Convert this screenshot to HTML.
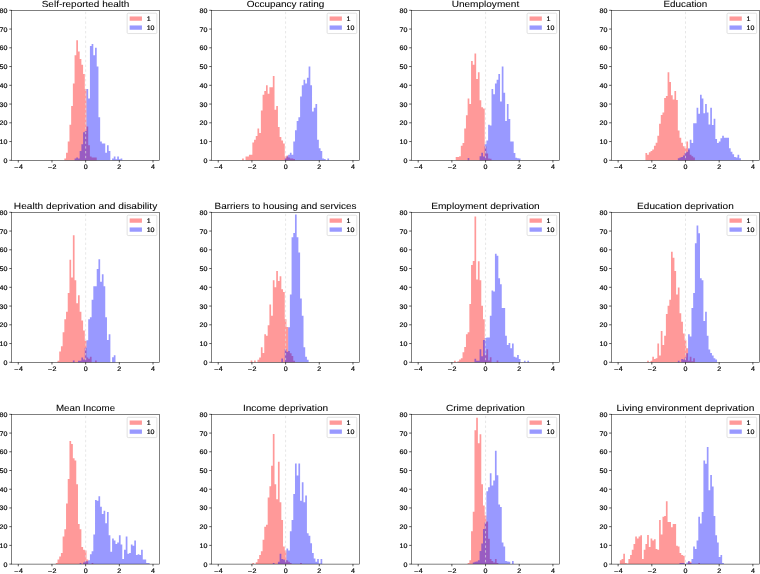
<!DOCTYPE html>
<html><head><meta charset="utf-8"><title>Histograms</title>
<style>html,body{margin:0;padding:0;background:#fff;width:760px;height:574px;overflow:hidden}</style></head>
<body>
<svg width="760" height="574" viewBox="0 0 760 574" style="position:absolute;left:0;top:0;will-change:transform;text-rendering:geometricPrecision;font-family:'Liberation Sans',sans-serif">
<rect width="760" height="574" fill="#fff"/>
<g>
<path d="M64.33 160.30V158.43H66.04V160.30ZM66.04 160.30V152.80H67.74V160.30ZM67.74 160.30V141.55H69.45V160.30ZM69.45 160.30V124.68H71.15V160.30ZM71.15 160.30V105.93H72.86V160.30ZM72.86 160.30V83.43H74.57V160.30ZM74.57 160.30V55.30H76.27V160.30ZM76.27 160.30V40.30H77.98V160.30ZM77.98 160.30V51.55H79.68V160.30ZM79.68 160.30V59.05H81.39V160.30ZM81.39 160.30V64.68H83.09V160.30ZM83.09 160.30V74.05H84.80V160.30ZM84.80 160.30V89.05H86.50V160.30ZM86.50 160.30V126.55H88.21V160.30ZM88.21 160.30V145.30H89.91V160.30ZM89.91 160.30V156.55H91.62V160.30ZM91.62 160.30V157.49H93.32V160.30ZM93.32 160.30V157.49H95.03V160.30ZM95.03 160.30V157.49H96.73V160.30Z" fill="#ff0000" fill-opacity="0.4"/>
<path d="M74.57 160.30V158.43H76.27V160.30ZM76.27 160.30V157.49H77.98V160.30ZM77.98 160.30V158.43H79.68V160.30ZM79.68 160.30V150.93H81.39V160.30ZM81.39 160.30V144.36H83.09V160.30ZM83.09 160.30V132.18H84.80V160.30ZM84.80 160.30V131.05H86.50V160.30ZM86.50 160.30V89.05H88.21V160.30ZM88.21 160.30V98.43H89.91V160.30ZM89.91 160.30V45.93H91.62V160.30ZM91.62 160.30V44.05H93.32V160.30ZM93.32 160.30V55.30H95.03V160.30ZM95.03 160.30V47.80H96.73V160.30ZM96.73 160.30V66.55H98.44V160.30ZM98.44 160.30V117.18H100.15V160.30ZM100.15 160.30V141.55H101.85V160.30ZM101.85 160.30V143.43H103.56V160.30ZM103.56 160.30V143.43H105.26V160.30ZM105.26 160.30V152.80H106.97V160.30ZM106.97 160.30V145.30H108.67V160.30ZM108.67 160.30V150.93H110.38V160.30ZM112.08 160.30V158.43H113.79V160.30ZM113.79 160.30V156.55H115.49V160.30ZM115.49 160.30V159.36H117.20V160.30ZM117.20 160.30V156.55H118.90V160.30ZM118.90 160.30V159.36H120.61V160.30ZM120.61 160.30V158.43H122.31V160.30Z" fill="#0000ff" fill-opacity="0.4"/>
<line x1="85.65" x2="85.65" y1="10.30" y2="160.30" stroke="#dcdcdc" stroke-width="0.7" stroke-dasharray="2.4 2.4" stroke-dashoffset="3.3"/>
<rect x="11.50" y="10.30" width="148.10" height="150.00" fill="none" stroke="#000" stroke-width="0.5"/>
<rect x="14.38" y="167.34" width="3.88" height="0.56" fill="#000"/>
<text transform="translate(18.92 169.45) scale(1.0701 1)" font-size="6.63" text-anchor="start" fill="#000" stroke="#000" stroke-width="0.18">4</text>
<rect x="48.06" y="167.34" width="3.88" height="0.56" fill="#000"/>
<text transform="translate(52.60 169.45) scale(1.0701 1)" font-size="6.63" text-anchor="start" fill="#000" stroke="#000" stroke-width="0.18">2</text>
<text transform="translate(85.65 169.45) scale(1.0701 1)" font-size="6.63" text-anchor="middle" fill="#000" stroke="#000" stroke-width="0.18">0</text>
<text transform="translate(119.33 169.45) scale(1.0701 1)" font-size="6.63" text-anchor="middle" fill="#000" stroke="#000" stroke-width="0.18">2</text>
<text transform="translate(153.01 169.45) scale(1.0701 1)" font-size="6.63" text-anchor="middle" fill="#000" stroke="#000" stroke-width="0.18">4</text>
<text transform="translate(7.50 162.75) scale(1.0701 1)" font-size="6.63" text-anchor="end" fill="#000" stroke="#000" stroke-width="0.18">0</text>
<text transform="translate(7.50 144.00) scale(1.0701 1)" font-size="6.63" text-anchor="end" fill="#000" stroke="#000" stroke-width="0.18">10</text>
<text transform="translate(7.50 125.25) scale(1.0701 1)" font-size="6.63" text-anchor="end" fill="#000" stroke="#000" stroke-width="0.18">20</text>
<text transform="translate(7.50 106.50) scale(1.0701 1)" font-size="6.63" text-anchor="end" fill="#000" stroke="#000" stroke-width="0.18">30</text>
<text transform="translate(7.50 87.75) scale(1.0701 1)" font-size="6.63" text-anchor="end" fill="#000" stroke="#000" stroke-width="0.18">40</text>
<text transform="translate(7.50 69.00) scale(1.0701 1)" font-size="6.63" text-anchor="end" fill="#000" stroke="#000" stroke-width="0.18">50</text>
<text transform="translate(7.50 50.25) scale(1.0701 1)" font-size="6.63" text-anchor="end" fill="#000" stroke="#000" stroke-width="0.18">60</text>
<text transform="translate(7.50 31.50) scale(1.0701 1)" font-size="6.63" text-anchor="end" fill="#000" stroke="#000" stroke-width="0.18">70</text>
<text transform="translate(7.50 12.75) scale(1.0701 1)" font-size="6.63" text-anchor="end" fill="#000" stroke="#000" stroke-width="0.18">80</text>
<path d="M18.29 160.30v2.2M51.97 160.30v2.2M85.65 160.30v2.2M119.33 160.30v2.2M153.01 160.30v2.2M11.50 160.30h-2.2M11.50 141.55h-2.2M11.50 122.80h-2.2M11.50 104.05h-2.2M11.50 85.30h-2.2M11.50 66.55h-2.2M11.50 47.80h-2.2M11.50 29.05h-2.2M11.50 10.30h-2.2" stroke="#000" stroke-width="0.65" fill="none"/>
<text transform="translate(85.55 7.00) scale(1.1153 1)" font-size="8.96" text-anchor="middle" fill="#000" stroke="#000" stroke-width="0.06">Self-reported health</text>
<rect x="127.15" y="13.20" width="29.7" height="20.35" rx="1.2" fill="#fff" fill-opacity="0.8" stroke="#ccc" stroke-width="0.6"/>
<rect x="129.65" y="16.45" width="12.3" height="4.3" fill="#ff0000" fill-opacity="0.4"/>
<rect x="129.65" y="25.45" width="12.3" height="4.3" fill="#0000ff" fill-opacity="0.4"/>
<text transform="translate(146.65 21.00) scale(1.0701 1)" font-size="6.63" text-anchor="start" fill="#000" stroke="#000" stroke-width="0.18">1</text>
<text transform="translate(146.65 30.00) scale(1.0701 1)" font-size="6.63" text-anchor="start" fill="#000" stroke="#000" stroke-width="0.18">10</text>
</g>
<g>
<path d="M242.11 160.30V158.43H243.82V160.30ZM245.53 160.30V156.55H247.23V160.30ZM247.23 160.30V156.55H248.94V160.30ZM248.94 160.30V154.68H250.64V160.30ZM250.64 160.30V154.68H252.35V160.30ZM252.35 160.30V142.49H254.05V160.30ZM254.05 160.30V139.68H255.76V160.30ZM255.76 160.30V135.93H257.46V160.30ZM257.46 160.30V128.43H259.17V160.30ZM259.17 160.30V133.11H260.87V160.30ZM260.87 160.30V110.61H262.58V160.30ZM262.58 160.30V94.68H264.28V160.30ZM264.28 160.30V90.93H265.99V160.30ZM265.99 160.30V85.30H267.69V160.30ZM267.69 160.30V93.74H269.40V160.30ZM269.40 160.30V87.18H271.10V160.30ZM271.10 160.30V87.18H272.81V160.30ZM272.81 160.30V75.93H274.52V160.30ZM274.52 160.30V109.68H276.22V160.30ZM276.22 160.30V105.93H277.93V160.30ZM277.93 160.30V127.11H279.63V160.30ZM279.63 160.30V137.05H281.34V160.30ZM281.34 160.30V140.43H283.04V160.30ZM283.04 160.30V143.43H284.75V160.30ZM284.75 160.30V156.55H286.45V160.30ZM286.45 160.30V155.61H288.16V160.30ZM288.16 160.30V157.49H289.86V160.30ZM289.86 160.30V158.43H291.57V160.30ZM291.57 160.30V158.43H293.27V160.30ZM293.27 160.30V158.99H294.98V160.30Z" fill="#ff0000" fill-opacity="0.4"/>
<path d="M284.75 160.30V158.43H286.45V160.30ZM286.45 160.30V156.55H288.16V160.30ZM288.16 160.30V154.68H289.86V160.30ZM289.86 160.30V152.80H291.57V160.30ZM291.57 160.30V154.68H293.27V160.30ZM293.27 160.30V141.55H294.98V160.30ZM294.98 160.30V130.30H296.68V160.30ZM296.68 160.30V120.93H298.39V160.30ZM298.39 160.30V117.18H300.10V160.30ZM300.10 160.30V96.55H301.80V160.30ZM301.80 160.30V85.30H303.51V160.30ZM303.51 160.30V79.68H305.21V160.30ZM305.21 160.30V83.43H306.92V160.30ZM306.92 160.30V77.80H308.62V160.30ZM308.62 160.30V66.55H310.33V160.30ZM310.33 160.30V85.30H312.03V160.30ZM312.03 160.30V111.55H313.74V160.30ZM313.74 160.30V107.80H315.44V160.30ZM315.44 160.30V104.05H317.15V160.30ZM317.15 160.30V139.68H318.85V160.30ZM318.85 160.30V148.30H320.56V160.30ZM320.56 160.30V150.93H322.26V160.30ZM322.26 160.30V158.43H323.97V160.30ZM323.97 160.30V158.99H325.67V160.30ZM327.38 160.30V158.43H329.09V160.30Z" fill="#0000ff" fill-opacity="0.4"/>
<line x1="285.60" x2="285.60" y1="10.30" y2="160.30" stroke="#dcdcdc" stroke-width="0.7" stroke-dasharray="2.4 2.4" stroke-dashoffset="3.3"/>
<rect x="211.45" y="10.30" width="148.10" height="150.00" fill="none" stroke="#000" stroke-width="0.5"/>
<rect x="214.33" y="167.34" width="3.88" height="0.56" fill="#000"/>
<text transform="translate(218.87 169.45) scale(1.0701 1)" font-size="6.63" text-anchor="start" fill="#000" stroke="#000" stroke-width="0.18">4</text>
<rect x="248.01" y="167.34" width="3.88" height="0.56" fill="#000"/>
<text transform="translate(252.55 169.45) scale(1.0701 1)" font-size="6.63" text-anchor="start" fill="#000" stroke="#000" stroke-width="0.18">2</text>
<text transform="translate(285.60 169.45) scale(1.0701 1)" font-size="6.63" text-anchor="middle" fill="#000" stroke="#000" stroke-width="0.18">0</text>
<text transform="translate(319.28 169.45) scale(1.0701 1)" font-size="6.63" text-anchor="middle" fill="#000" stroke="#000" stroke-width="0.18">2</text>
<text transform="translate(352.96 169.45) scale(1.0701 1)" font-size="6.63" text-anchor="middle" fill="#000" stroke="#000" stroke-width="0.18">4</text>
<text transform="translate(207.45 162.75) scale(1.0701 1)" font-size="6.63" text-anchor="end" fill="#000" stroke="#000" stroke-width="0.18">0</text>
<text transform="translate(207.45 144.00) scale(1.0701 1)" font-size="6.63" text-anchor="end" fill="#000" stroke="#000" stroke-width="0.18">10</text>
<text transform="translate(207.45 125.25) scale(1.0701 1)" font-size="6.63" text-anchor="end" fill="#000" stroke="#000" stroke-width="0.18">20</text>
<text transform="translate(207.45 106.50) scale(1.0701 1)" font-size="6.63" text-anchor="end" fill="#000" stroke="#000" stroke-width="0.18">30</text>
<text transform="translate(207.45 87.75) scale(1.0701 1)" font-size="6.63" text-anchor="end" fill="#000" stroke="#000" stroke-width="0.18">40</text>
<text transform="translate(207.45 69.00) scale(1.0701 1)" font-size="6.63" text-anchor="end" fill="#000" stroke="#000" stroke-width="0.18">50</text>
<text transform="translate(207.45 50.25) scale(1.0701 1)" font-size="6.63" text-anchor="end" fill="#000" stroke="#000" stroke-width="0.18">60</text>
<text transform="translate(207.45 31.50) scale(1.0701 1)" font-size="6.63" text-anchor="end" fill="#000" stroke="#000" stroke-width="0.18">70</text>
<text transform="translate(207.45 12.75) scale(1.0701 1)" font-size="6.63" text-anchor="end" fill="#000" stroke="#000" stroke-width="0.18">80</text>
<path d="M218.24 160.30v2.2M251.92 160.30v2.2M285.60 160.30v2.2M319.28 160.30v2.2M352.96 160.30v2.2M211.45 160.30h-2.2M211.45 141.55h-2.2M211.45 122.80h-2.2M211.45 104.05h-2.2M211.45 85.30h-2.2M211.45 66.55h-2.2M211.45 47.80h-2.2M211.45 29.05h-2.2M211.45 10.30h-2.2" stroke="#000" stroke-width="0.65" fill="none"/>
<text transform="translate(285.50 7.00) scale(1.1137 1)" font-size="8.96" text-anchor="middle" fill="#000" stroke="#000" stroke-width="0.06">Occupancy rating</text>
<rect x="327.10" y="13.20" width="29.7" height="20.35" rx="1.2" fill="#fff" fill-opacity="0.8" stroke="#ccc" stroke-width="0.6"/>
<rect x="329.60" y="16.45" width="12.3" height="4.3" fill="#ff0000" fill-opacity="0.4"/>
<rect x="329.60" y="25.45" width="12.3" height="4.3" fill="#0000ff" fill-opacity="0.4"/>
<text transform="translate(346.60 21.00) scale(1.0701 1)" font-size="6.63" text-anchor="start" fill="#000" stroke="#000" stroke-width="0.18">1</text>
<text transform="translate(346.60 30.00) scale(1.0701 1)" font-size="6.63" text-anchor="start" fill="#000" stroke="#000" stroke-width="0.18">10</text>
</g>
<g>
<path d="M455.71 160.30V156.93H457.41V160.30ZM457.41 160.30V156.93H459.12V160.30ZM459.12 160.30V156.36H460.82V160.30ZM460.82 160.30V145.68H462.53V160.30ZM462.53 160.30V143.05H464.23V160.30ZM464.23 160.30V128.43H465.94V160.30ZM465.94 160.30V115.30H467.64V160.30ZM467.64 160.30V98.43H469.35V160.30ZM469.35 160.30V104.05H471.05V160.30ZM471.05 160.30V60.93H472.76V160.30ZM472.76 160.30V64.68H474.47V160.30ZM474.47 160.30V53.43H476.17V160.30ZM476.17 160.30V79.11H477.88V160.30ZM477.88 160.30V72.18H479.58V160.30ZM479.58 160.30V100.30H481.29V160.30ZM481.29 160.30V107.24H482.99V160.30ZM482.99 160.30V108.55H484.70V160.30ZM484.70 160.30V146.24H486.40V160.30ZM486.40 160.30V153.55H488.11V160.30ZM488.11 160.30V158.43H489.81V160.30ZM489.81 160.30V158.80H491.52V160.30Z" fill="#ff0000" fill-opacity="0.4"/>
<path d="M467.64 160.30V158.05H469.35V160.30ZM479.58 160.30V156.36H481.29V160.30ZM481.29 160.30V152.80H482.99V160.30ZM482.99 160.30V156.55H484.70V160.30ZM484.70 160.30V144.18H486.40V160.30ZM486.40 160.30V140.61H488.11V160.30ZM488.11 160.30V124.68H489.81V160.30ZM489.81 160.30V125.61H491.52V160.30ZM491.52 160.30V89.05H493.22V160.30ZM493.22 160.30V94.30H494.93V160.30ZM494.93 160.30V83.43H496.63V160.30ZM496.63 160.30V79.68H498.34V160.30ZM498.34 160.30V74.05H500.05V160.30ZM500.05 160.30V101.61H501.75V160.30ZM501.75 160.30V66.55H503.46V160.30ZM503.46 160.30V92.80H505.16V160.30ZM505.16 160.30V120.93H506.87V160.30ZM506.87 160.30V104.05H508.57V160.30ZM508.57 160.30V119.05H510.28V160.30ZM510.28 160.30V141.55H511.98V160.30ZM511.98 160.30V141.55H513.69V160.30ZM513.69 160.30V152.99H515.39V160.30ZM515.39 160.30V157.68H517.10V160.30ZM517.10 160.30V158.24H518.80V160.30ZM518.80 160.30V158.43H520.51V160.30Z" fill="#0000ff" fill-opacity="0.4"/>
<line x1="485.55" x2="485.55" y1="10.30" y2="160.30" stroke="#dcdcdc" stroke-width="0.7" stroke-dasharray="2.4 2.4" stroke-dashoffset="3.3"/>
<rect x="411.40" y="10.30" width="148.10" height="150.00" fill="none" stroke="#000" stroke-width="0.5"/>
<rect x="414.28" y="167.34" width="3.88" height="0.56" fill="#000"/>
<text transform="translate(418.82 169.45) scale(1.0701 1)" font-size="6.63" text-anchor="start" fill="#000" stroke="#000" stroke-width="0.18">4</text>
<rect x="447.96" y="167.34" width="3.88" height="0.56" fill="#000"/>
<text transform="translate(452.50 169.45) scale(1.0701 1)" font-size="6.63" text-anchor="start" fill="#000" stroke="#000" stroke-width="0.18">2</text>
<text transform="translate(485.55 169.45) scale(1.0701 1)" font-size="6.63" text-anchor="middle" fill="#000" stroke="#000" stroke-width="0.18">0</text>
<text transform="translate(519.23 169.45) scale(1.0701 1)" font-size="6.63" text-anchor="middle" fill="#000" stroke="#000" stroke-width="0.18">2</text>
<text transform="translate(552.91 169.45) scale(1.0701 1)" font-size="6.63" text-anchor="middle" fill="#000" stroke="#000" stroke-width="0.18">4</text>
<text transform="translate(407.40 162.75) scale(1.0701 1)" font-size="6.63" text-anchor="end" fill="#000" stroke="#000" stroke-width="0.18">0</text>
<text transform="translate(407.40 144.00) scale(1.0701 1)" font-size="6.63" text-anchor="end" fill="#000" stroke="#000" stroke-width="0.18">10</text>
<text transform="translate(407.40 125.25) scale(1.0701 1)" font-size="6.63" text-anchor="end" fill="#000" stroke="#000" stroke-width="0.18">20</text>
<text transform="translate(407.40 106.50) scale(1.0701 1)" font-size="6.63" text-anchor="end" fill="#000" stroke="#000" stroke-width="0.18">30</text>
<text transform="translate(407.40 87.75) scale(1.0701 1)" font-size="6.63" text-anchor="end" fill="#000" stroke="#000" stroke-width="0.18">40</text>
<text transform="translate(407.40 69.00) scale(1.0701 1)" font-size="6.63" text-anchor="end" fill="#000" stroke="#000" stroke-width="0.18">50</text>
<text transform="translate(407.40 50.25) scale(1.0701 1)" font-size="6.63" text-anchor="end" fill="#000" stroke="#000" stroke-width="0.18">60</text>
<text transform="translate(407.40 31.50) scale(1.0701 1)" font-size="6.63" text-anchor="end" fill="#000" stroke="#000" stroke-width="0.18">70</text>
<text transform="translate(407.40 12.75) scale(1.0701 1)" font-size="6.63" text-anchor="end" fill="#000" stroke="#000" stroke-width="0.18">80</text>
<path d="M418.19 160.30v2.2M451.87 160.30v2.2M485.55 160.30v2.2M519.23 160.30v2.2M552.91 160.30v2.2M411.40 160.30h-2.2M411.40 141.55h-2.2M411.40 122.80h-2.2M411.40 104.05h-2.2M411.40 85.30h-2.2M411.40 66.55h-2.2M411.40 47.80h-2.2M411.40 29.05h-2.2M411.40 10.30h-2.2" stroke="#000" stroke-width="0.65" fill="none"/>
<text transform="translate(485.45 7.00) scale(1.1226 1)" font-size="8.96" text-anchor="middle" fill="#000" stroke="#000" stroke-width="0.06">Unemployment</text>
<rect x="527.05" y="13.20" width="29.7" height="20.35" rx="1.2" fill="#fff" fill-opacity="0.8" stroke="#ccc" stroke-width="0.6"/>
<rect x="529.55" y="16.45" width="12.3" height="4.3" fill="#ff0000" fill-opacity="0.4"/>
<rect x="529.55" y="25.45" width="12.3" height="4.3" fill="#0000ff" fill-opacity="0.4"/>
<text transform="translate(546.55 21.00) scale(1.0701 1)" font-size="6.63" text-anchor="start" fill="#000" stroke="#000" stroke-width="0.18">1</text>
<text transform="translate(546.55 30.00) scale(1.0701 1)" font-size="6.63" text-anchor="start" fill="#000" stroke="#000" stroke-width="0.18">10</text>
</g>
<g>
<path d="M645.43 160.30V152.99H647.13V160.30ZM647.13 160.30V154.86H648.84V160.30ZM648.84 160.30V152.24H650.54V160.30ZM650.54 160.30V150.93H652.25V160.30ZM652.25 160.30V149.61H653.95V160.30ZM653.95 160.30V145.68H655.66V160.30ZM655.66 160.30V142.86H657.36V160.30ZM657.36 160.30V135.74H659.07V160.30ZM659.07 160.30V123.74H660.77V160.30ZM660.77 160.30V115.11H662.48V160.30ZM662.48 160.30V112.49H664.18V160.30ZM664.18 160.30V98.05H665.89V160.30ZM665.89 160.30V95.99H667.59V160.30ZM667.59 160.30V72.18H669.30V160.30ZM669.30 160.30V82.11H671.00V160.30ZM671.00 160.30V95.24H672.71V160.30ZM672.71 160.30V99.55H674.42V160.30ZM674.42 160.30V90.93H676.12V160.30ZM676.12 160.30V100.11H677.83V160.30ZM677.83 160.30V130.49H679.53V160.30ZM679.53 160.30V137.80H681.24V160.30ZM681.24 160.30V142.86H682.94V160.30ZM682.94 160.30V146.24H684.65V160.30ZM684.65 160.30V148.30H686.35V160.30ZM686.35 160.30V141.55H688.06V160.30ZM688.06 160.30V149.61H689.76V160.30ZM689.76 160.30V154.86H691.47V160.30ZM691.47 160.30V156.18H693.17V160.30ZM693.17 160.30V157.49H694.88V160.30Z" fill="#ff0000" fill-opacity="0.4"/>
<path d="M677.83 160.30V158.24H679.53V160.30ZM679.53 160.30V157.49H681.24V160.30ZM681.24 160.30V156.93H682.94V160.30ZM682.94 160.30V155.61H684.65V160.30ZM684.65 160.30V152.99H686.35V160.30ZM686.35 160.30V151.68H688.06V160.30ZM688.06 160.30V148.30H689.76V160.30ZM689.76 160.30V139.68H691.47V160.30ZM691.47 160.30V143.05H693.17V160.30ZM693.17 160.30V123.18H694.88V160.30ZM694.88 160.30V123.18H696.58V160.30ZM696.58 160.30V107.80H698.29V160.30ZM698.29 160.30V113.80H700.00V160.30ZM700.00 160.30V94.68H701.70V160.30ZM701.70 160.30V98.61H703.41V160.30ZM703.41 160.30V113.24H705.11V160.30ZM705.11 160.30V104.05H706.82V160.30ZM706.82 160.30V112.49H708.52V160.30ZM708.52 160.30V124.49H710.23V160.30ZM710.23 160.30V107.80H711.93V160.30ZM711.93 160.30V125.05H713.64V160.30ZM713.64 160.30V118.86H715.34V160.30ZM715.34 160.30V138.93H717.05V160.30ZM717.05 160.30V143.05H718.75V160.30ZM718.75 160.30V141.55H720.46V160.30ZM720.46 160.30V138.36H722.16V160.30ZM722.16 160.30V135.74H723.87V160.30ZM723.87 160.30V137.80H725.57V160.30ZM725.57 160.30V137.80H727.28V160.30ZM727.28 160.30V137.80H728.99V160.30ZM728.99 160.30V148.30H730.69V160.30ZM730.69 160.30V151.68H732.40V160.30ZM732.40 160.30V154.30H734.10V160.30ZM734.10 160.30V156.93H735.81V160.30ZM735.81 160.30V157.49H737.51V160.30ZM737.51 160.30V154.86H739.22V160.30ZM739.22 160.30V158.24H740.92V160.30Z" fill="#0000ff" fill-opacity="0.4"/>
<line x1="685.50" x2="685.50" y1="10.30" y2="160.30" stroke="#dcdcdc" stroke-width="0.7" stroke-dasharray="2.4 2.4" stroke-dashoffset="3.3"/>
<rect x="611.35" y="10.30" width="148.10" height="150.00" fill="none" stroke="#000" stroke-width="0.5"/>
<rect x="614.23" y="167.34" width="3.88" height="0.56" fill="#000"/>
<text transform="translate(618.77 169.45) scale(1.0701 1)" font-size="6.63" text-anchor="start" fill="#000" stroke="#000" stroke-width="0.18">4</text>
<rect x="647.91" y="167.34" width="3.88" height="0.56" fill="#000"/>
<text transform="translate(652.45 169.45) scale(1.0701 1)" font-size="6.63" text-anchor="start" fill="#000" stroke="#000" stroke-width="0.18">2</text>
<text transform="translate(685.50 169.45) scale(1.0701 1)" font-size="6.63" text-anchor="middle" fill="#000" stroke="#000" stroke-width="0.18">0</text>
<text transform="translate(719.18 169.45) scale(1.0701 1)" font-size="6.63" text-anchor="middle" fill="#000" stroke="#000" stroke-width="0.18">2</text>
<text transform="translate(752.86 169.45) scale(1.0701 1)" font-size="6.63" text-anchor="middle" fill="#000" stroke="#000" stroke-width="0.18">4</text>
<text transform="translate(607.35 162.75) scale(1.0701 1)" font-size="6.63" text-anchor="end" fill="#000" stroke="#000" stroke-width="0.18">0</text>
<text transform="translate(607.35 144.00) scale(1.0701 1)" font-size="6.63" text-anchor="end" fill="#000" stroke="#000" stroke-width="0.18">10</text>
<text transform="translate(607.35 125.25) scale(1.0701 1)" font-size="6.63" text-anchor="end" fill="#000" stroke="#000" stroke-width="0.18">20</text>
<text transform="translate(607.35 106.50) scale(1.0701 1)" font-size="6.63" text-anchor="end" fill="#000" stroke="#000" stroke-width="0.18">30</text>
<text transform="translate(607.35 87.75) scale(1.0701 1)" font-size="6.63" text-anchor="end" fill="#000" stroke="#000" stroke-width="0.18">40</text>
<text transform="translate(607.35 69.00) scale(1.0701 1)" font-size="6.63" text-anchor="end" fill="#000" stroke="#000" stroke-width="0.18">50</text>
<text transform="translate(607.35 50.25) scale(1.0701 1)" font-size="6.63" text-anchor="end" fill="#000" stroke="#000" stroke-width="0.18">60</text>
<text transform="translate(607.35 31.50) scale(1.0701 1)" font-size="6.63" text-anchor="end" fill="#000" stroke="#000" stroke-width="0.18">70</text>
<text transform="translate(607.35 12.75) scale(1.0701 1)" font-size="6.63" text-anchor="end" fill="#000" stroke="#000" stroke-width="0.18">80</text>
<path d="M618.14 160.30v2.2M651.82 160.30v2.2M685.50 160.30v2.2M719.18 160.30v2.2M752.86 160.30v2.2M611.35 160.30h-2.2M611.35 141.55h-2.2M611.35 122.80h-2.2M611.35 104.05h-2.2M611.35 85.30h-2.2M611.35 66.55h-2.2M611.35 47.80h-2.2M611.35 29.05h-2.2M611.35 10.30h-2.2" stroke="#000" stroke-width="0.65" fill="none"/>
<text transform="translate(685.40 7.00) scale(1.0994 1)" font-size="8.96" text-anchor="middle" fill="#000" stroke="#000" stroke-width="0.06">Education</text>
<rect x="727.00" y="13.20" width="29.7" height="20.35" rx="1.2" fill="#fff" fill-opacity="0.8" stroke="#ccc" stroke-width="0.6"/>
<rect x="729.50" y="16.45" width="12.3" height="4.3" fill="#ff0000" fill-opacity="0.4"/>
<rect x="729.50" y="25.45" width="12.3" height="4.3" fill="#0000ff" fill-opacity="0.4"/>
<text transform="translate(746.50 21.00) scale(1.0701 1)" font-size="6.63" text-anchor="start" fill="#000" stroke="#000" stroke-width="0.18">1</text>
<text transform="translate(746.50 30.00) scale(1.0701 1)" font-size="6.63" text-anchor="start" fill="#000" stroke="#000" stroke-width="0.18">10</text>
</g>
<g>
<path d="M57.51 362.30V360.80H59.22V362.30ZM59.22 362.30V351.61H60.92V362.30ZM60.92 362.30V346.36H62.63V362.30ZM62.63 362.30V332.30H64.33V362.30ZM64.33 362.30V319.18H66.04V362.30ZM66.04 362.30V311.86H67.74V362.30ZM67.74 362.30V292.93H69.45V362.30ZM69.45 362.30V259.74H71.15V362.30ZM71.15 362.30V277.55H72.86V362.30ZM72.86 362.30V235.18H74.57V362.30ZM74.57 362.30V280.36H76.27V362.30ZM76.27 362.30V303.24H77.98V362.30ZM77.98 362.30V295.18H79.68V362.30ZM79.68 362.30V311.86H81.39V362.30ZM81.39 362.30V320.49H83.09V362.30ZM83.09 362.30V330.43H84.80V362.30ZM84.80 362.30V340.74H86.50V362.30ZM86.50 362.30V357.61H88.21V362.30ZM88.21 362.30V358.74H89.91V362.30ZM89.91 362.30V356.86H91.62V362.30ZM95.03 362.30V360.43H96.73V362.30Z" fill="#ff0000" fill-opacity="0.4"/>
<path d="M72.86 362.30V360.43H74.57V362.30ZM77.98 362.30V360.80H79.68V362.30ZM79.68 362.30V360.80H81.39V362.30ZM81.39 362.30V357.43H83.09V362.30ZM83.09 362.30V359.49H84.80V362.30ZM84.80 362.30V347.86H86.50V362.30ZM86.50 362.30V340.36H88.21V362.30ZM88.21 362.30V319.18H89.91V362.30ZM89.91 362.30V317.30H91.62V362.30ZM91.62 362.30V299.86H93.32V362.30ZM93.32 362.30V286.18H95.03V362.30ZM95.03 362.30V286.18H96.73V362.30ZM96.73 362.30V268.93H98.44V362.30ZM98.44 362.30V259.36H100.15V362.30ZM100.15 362.30V281.68H101.85V362.30ZM101.85 362.30V274.36H103.56V362.30ZM103.56 362.30V286.18H105.26V362.30ZM105.26 362.30V317.30H106.97V362.30ZM106.97 362.30V339.99H108.67V362.30ZM108.67 362.30V334.18H110.38V362.30ZM112.08 362.30V357.24H113.79V362.30ZM113.79 362.30V355.18H115.49V362.30Z" fill="#0000ff" fill-opacity="0.4"/>
<line x1="85.65" x2="85.65" y1="212.30" y2="362.30" stroke="#dcdcdc" stroke-width="0.7" stroke-dasharray="2.4 2.4" stroke-dashoffset="3.3"/>
<rect x="11.50" y="212.30" width="148.10" height="150.00" fill="none" stroke="#000" stroke-width="0.5"/>
<rect x="14.38" y="369.34" width="3.88" height="0.56" fill="#000"/>
<text transform="translate(18.92 371.45) scale(1.0701 1)" font-size="6.63" text-anchor="start" fill="#000" stroke="#000" stroke-width="0.18">4</text>
<rect x="48.06" y="369.34" width="3.88" height="0.56" fill="#000"/>
<text transform="translate(52.60 371.45) scale(1.0701 1)" font-size="6.63" text-anchor="start" fill="#000" stroke="#000" stroke-width="0.18">2</text>
<text transform="translate(85.65 371.45) scale(1.0701 1)" font-size="6.63" text-anchor="middle" fill="#000" stroke="#000" stroke-width="0.18">0</text>
<text transform="translate(119.33 371.45) scale(1.0701 1)" font-size="6.63" text-anchor="middle" fill="#000" stroke="#000" stroke-width="0.18">2</text>
<text transform="translate(153.01 371.45) scale(1.0701 1)" font-size="6.63" text-anchor="middle" fill="#000" stroke="#000" stroke-width="0.18">4</text>
<text transform="translate(7.50 364.75) scale(1.0701 1)" font-size="6.63" text-anchor="end" fill="#000" stroke="#000" stroke-width="0.18">0</text>
<text transform="translate(7.50 346.00) scale(1.0701 1)" font-size="6.63" text-anchor="end" fill="#000" stroke="#000" stroke-width="0.18">10</text>
<text transform="translate(7.50 327.25) scale(1.0701 1)" font-size="6.63" text-anchor="end" fill="#000" stroke="#000" stroke-width="0.18">20</text>
<text transform="translate(7.50 308.50) scale(1.0701 1)" font-size="6.63" text-anchor="end" fill="#000" stroke="#000" stroke-width="0.18">30</text>
<text transform="translate(7.50 289.75) scale(1.0701 1)" font-size="6.63" text-anchor="end" fill="#000" stroke="#000" stroke-width="0.18">40</text>
<text transform="translate(7.50 271.00) scale(1.0701 1)" font-size="6.63" text-anchor="end" fill="#000" stroke="#000" stroke-width="0.18">50</text>
<text transform="translate(7.50 252.25) scale(1.0701 1)" font-size="6.63" text-anchor="end" fill="#000" stroke="#000" stroke-width="0.18">60</text>
<text transform="translate(7.50 233.50) scale(1.0701 1)" font-size="6.63" text-anchor="end" fill="#000" stroke="#000" stroke-width="0.18">70</text>
<text transform="translate(7.50 214.75) scale(1.0701 1)" font-size="6.63" text-anchor="end" fill="#000" stroke="#000" stroke-width="0.18">80</text>
<path d="M18.29 362.30v2.2M51.97 362.30v2.2M85.65 362.30v2.2M119.33 362.30v2.2M153.01 362.30v2.2M11.50 362.30h-2.2M11.50 343.55h-2.2M11.50 324.80h-2.2M11.50 306.05h-2.2M11.50 287.30h-2.2M11.50 268.55h-2.2M11.50 249.80h-2.2M11.50 231.05h-2.2M11.50 212.30h-2.2" stroke="#000" stroke-width="0.65" fill="none"/>
<text transform="translate(85.55 209.00) scale(1.1346 1)" font-size="8.96" text-anchor="middle" fill="#000" stroke="#000" stroke-width="0.06">Health deprivation and disability</text>
<rect x="127.15" y="215.20" width="29.7" height="20.35" rx="1.2" fill="#fff" fill-opacity="0.8" stroke="#ccc" stroke-width="0.6"/>
<rect x="129.65" y="218.45" width="12.3" height="4.3" fill="#ff0000" fill-opacity="0.4"/>
<rect x="129.65" y="227.45" width="12.3" height="4.3" fill="#0000ff" fill-opacity="0.4"/>
<text transform="translate(146.65 223.00) scale(1.0701 1)" font-size="6.63" text-anchor="start" fill="#000" stroke="#000" stroke-width="0.18">1</text>
<text transform="translate(146.65 232.00) scale(1.0701 1)" font-size="6.63" text-anchor="start" fill="#000" stroke="#000" stroke-width="0.18">10</text>
</g>
<g>
<path d="M250.64 362.30V360.43H252.35V362.30ZM254.05 362.30V360.43H255.76V362.30ZM257.46 362.30V359.86H259.17V362.30ZM259.17 362.30V357.61H260.87V362.30ZM260.87 362.30V347.30H262.58V362.30ZM262.58 362.30V352.93H264.28V362.30ZM264.28 362.30V334.18H265.99V362.30ZM265.99 362.30V335.86H267.69V362.30ZM267.69 362.30V325.36H269.40V362.30ZM269.40 362.30V304.55H271.10V362.30ZM271.10 362.30V315.80H272.81V362.30ZM272.81 362.30V280.18H274.52V362.30ZM274.52 362.30V287.30H276.22V362.30ZM276.22 362.30V270.99H277.93V362.30ZM277.93 362.30V280.93H279.63V362.30ZM279.63 362.30V276.24H281.34V362.30ZM281.34 362.30V289.36H283.04V362.30ZM283.04 362.30V291.99H284.75V362.30ZM284.75 362.30V319.18H286.45V362.30ZM286.45 362.30V327.05H288.16V362.30ZM288.16 362.30V351.05H289.86V362.30ZM289.86 362.30V353.30H291.57V362.30ZM291.57 362.30V355.93H293.27V362.30ZM293.27 362.30V360.80H294.98V362.30Z" fill="#ff0000" fill-opacity="0.4"/>
<path d="M281.34 362.30V358.55H283.04V362.30ZM284.75 362.30V349.18H286.45V362.30ZM286.45 362.30V351.80H288.16V362.30ZM288.16 362.30V327.24H289.86V362.30ZM289.86 362.30V294.61H291.57V362.30ZM291.57 362.30V237.24H293.27V362.30ZM293.27 362.30V233.11H294.98V362.30ZM294.98 362.30V214.55H296.68V362.30ZM296.68 362.30V237.24H298.39V362.30ZM298.39 362.30V252.43H300.10V362.30ZM300.10 362.30V298.55H301.80V362.30ZM301.80 362.30V315.80H303.51V362.30ZM303.51 362.30V347.30H305.21V362.30ZM305.21 362.30V356.86H306.92V362.30ZM306.92 362.30V359.86H308.62V362.30Z" fill="#0000ff" fill-opacity="0.4"/>
<line x1="285.60" x2="285.60" y1="212.30" y2="362.30" stroke="#dcdcdc" stroke-width="0.7" stroke-dasharray="2.4 2.4" stroke-dashoffset="3.3"/>
<rect x="211.45" y="212.30" width="148.10" height="150.00" fill="none" stroke="#000" stroke-width="0.5"/>
<rect x="214.33" y="369.34" width="3.88" height="0.56" fill="#000"/>
<text transform="translate(218.87 371.45) scale(1.0701 1)" font-size="6.63" text-anchor="start" fill="#000" stroke="#000" stroke-width="0.18">4</text>
<rect x="248.01" y="369.34" width="3.88" height="0.56" fill="#000"/>
<text transform="translate(252.55 371.45) scale(1.0701 1)" font-size="6.63" text-anchor="start" fill="#000" stroke="#000" stroke-width="0.18">2</text>
<text transform="translate(285.60 371.45) scale(1.0701 1)" font-size="6.63" text-anchor="middle" fill="#000" stroke="#000" stroke-width="0.18">0</text>
<text transform="translate(319.28 371.45) scale(1.0701 1)" font-size="6.63" text-anchor="middle" fill="#000" stroke="#000" stroke-width="0.18">2</text>
<text transform="translate(352.96 371.45) scale(1.0701 1)" font-size="6.63" text-anchor="middle" fill="#000" stroke="#000" stroke-width="0.18">4</text>
<text transform="translate(207.45 364.75) scale(1.0701 1)" font-size="6.63" text-anchor="end" fill="#000" stroke="#000" stroke-width="0.18">0</text>
<text transform="translate(207.45 346.00) scale(1.0701 1)" font-size="6.63" text-anchor="end" fill="#000" stroke="#000" stroke-width="0.18">10</text>
<text transform="translate(207.45 327.25) scale(1.0701 1)" font-size="6.63" text-anchor="end" fill="#000" stroke="#000" stroke-width="0.18">20</text>
<text transform="translate(207.45 308.50) scale(1.0701 1)" font-size="6.63" text-anchor="end" fill="#000" stroke="#000" stroke-width="0.18">30</text>
<text transform="translate(207.45 289.75) scale(1.0701 1)" font-size="6.63" text-anchor="end" fill="#000" stroke="#000" stroke-width="0.18">40</text>
<text transform="translate(207.45 271.00) scale(1.0701 1)" font-size="6.63" text-anchor="end" fill="#000" stroke="#000" stroke-width="0.18">50</text>
<text transform="translate(207.45 252.25) scale(1.0701 1)" font-size="6.63" text-anchor="end" fill="#000" stroke="#000" stroke-width="0.18">60</text>
<text transform="translate(207.45 233.50) scale(1.0701 1)" font-size="6.63" text-anchor="end" fill="#000" stroke="#000" stroke-width="0.18">70</text>
<text transform="translate(207.45 214.75) scale(1.0701 1)" font-size="6.63" text-anchor="end" fill="#000" stroke="#000" stroke-width="0.18">80</text>
<path d="M218.24 362.30v2.2M251.92 362.30v2.2M285.60 362.30v2.2M319.28 362.30v2.2M352.96 362.30v2.2M211.45 362.30h-2.2M211.45 343.55h-2.2M211.45 324.80h-2.2M211.45 306.05h-2.2M211.45 287.30h-2.2M211.45 268.55h-2.2M211.45 249.80h-2.2M211.45 231.05h-2.2M211.45 212.30h-2.2" stroke="#000" stroke-width="0.65" fill="none"/>
<text transform="translate(285.50 209.00) scale(1.1094 1)" font-size="8.96" text-anchor="middle" fill="#000" stroke="#000" stroke-width="0.06">Barriers to housing and services</text>
<rect x="327.10" y="215.20" width="29.7" height="20.35" rx="1.2" fill="#fff" fill-opacity="0.8" stroke="#ccc" stroke-width="0.6"/>
<rect x="329.60" y="218.45" width="12.3" height="4.3" fill="#ff0000" fill-opacity="0.4"/>
<rect x="329.60" y="227.45" width="12.3" height="4.3" fill="#0000ff" fill-opacity="0.4"/>
<text transform="translate(346.60 223.00) scale(1.0701 1)" font-size="6.63" text-anchor="start" fill="#000" stroke="#000" stroke-width="0.18">1</text>
<text transform="translate(346.60 232.00) scale(1.0701 1)" font-size="6.63" text-anchor="start" fill="#000" stroke="#000" stroke-width="0.18">10</text>
</g>
<g>
<path d="M454.00 362.30V360.80H455.71V362.30ZM457.41 362.30V361.18H459.12V362.30ZM459.12 362.30V359.49H460.82V362.30ZM460.82 362.30V358.18H462.53V362.30ZM462.53 362.30V352.18H464.23V362.30ZM464.23 362.30V346.93H465.94V362.30ZM465.94 362.30V334.36H467.64V362.30ZM467.64 362.30V332.30H469.35V362.30ZM469.35 362.30V303.99H471.05V362.30ZM471.05 362.30V264.99H472.76V362.30ZM472.76 362.30V261.05H474.47V362.30ZM474.47 362.30V216.43H476.17V362.30ZM476.17 362.30V279.61H477.88V362.30ZM477.88 362.30V261.24H479.58V362.30ZM479.58 362.30V280.36H481.29V362.30ZM481.29 362.30V305.86H482.99V362.30ZM482.99 362.30V319.18H484.70V362.30ZM484.70 362.30V354.80H486.40V362.30ZM486.40 362.30V349.36H488.11V362.30ZM488.11 362.30V360.43H489.81V362.30ZM489.81 362.30V357.24H491.52V362.30ZM496.63 362.30V360.43H498.34V362.30Z" fill="#ff0000" fill-opacity="0.4"/>
<path d="M474.47 362.30V358.74H476.17V362.30ZM476.17 362.30V360.80H477.88V362.30ZM477.88 362.30V360.80H479.58V362.30ZM479.58 362.30V349.36H481.29V362.30ZM481.29 362.30V356.30H482.99V362.30ZM482.99 362.30V339.99H484.70V362.30ZM484.70 362.30V337.93H486.40V362.30ZM486.40 362.30V337.55H488.11V362.30ZM488.11 362.30V337.55H489.81V362.30ZM489.81 362.30V315.80H491.52V362.30ZM491.52 362.30V290.49H493.22V362.30ZM493.22 362.30V291.61H494.93V362.30ZM494.93 362.30V253.74H496.63V362.30ZM496.63 362.30V255.80H498.34V362.30ZM498.34 362.30V278.30H500.05V362.30ZM500.05 362.30V284.30H501.75V362.30ZM501.75 362.30V307.93H503.46V362.30ZM503.46 362.30V307.93H505.16V362.30ZM505.16 362.30V335.68H506.87V362.30ZM506.87 362.30V345.05H508.57V362.30ZM508.57 362.30V342.99H510.28V362.30ZM510.28 362.30V348.24H511.98V362.30ZM511.98 362.30V343.55H513.69V362.30ZM513.69 362.30V356.86H515.39V362.30ZM515.39 362.30V357.61H517.10V362.30ZM517.10 362.30V354.99H518.80V362.30ZM518.80 362.30V358.93H520.51V362.30ZM523.92 362.30V360.80H525.62V362.30ZM527.33 362.30V360.80H529.04V362.30Z" fill="#0000ff" fill-opacity="0.4"/>
<line x1="485.55" x2="485.55" y1="212.30" y2="362.30" stroke="#dcdcdc" stroke-width="0.7" stroke-dasharray="2.4 2.4" stroke-dashoffset="3.3"/>
<rect x="411.40" y="212.30" width="148.10" height="150.00" fill="none" stroke="#000" stroke-width="0.5"/>
<rect x="414.28" y="369.34" width="3.88" height="0.56" fill="#000"/>
<text transform="translate(418.82 371.45) scale(1.0701 1)" font-size="6.63" text-anchor="start" fill="#000" stroke="#000" stroke-width="0.18">4</text>
<rect x="447.96" y="369.34" width="3.88" height="0.56" fill="#000"/>
<text transform="translate(452.50 371.45) scale(1.0701 1)" font-size="6.63" text-anchor="start" fill="#000" stroke="#000" stroke-width="0.18">2</text>
<text transform="translate(485.55 371.45) scale(1.0701 1)" font-size="6.63" text-anchor="middle" fill="#000" stroke="#000" stroke-width="0.18">0</text>
<text transform="translate(519.23 371.45) scale(1.0701 1)" font-size="6.63" text-anchor="middle" fill="#000" stroke="#000" stroke-width="0.18">2</text>
<text transform="translate(552.91 371.45) scale(1.0701 1)" font-size="6.63" text-anchor="middle" fill="#000" stroke="#000" stroke-width="0.18">4</text>
<text transform="translate(407.40 364.75) scale(1.0701 1)" font-size="6.63" text-anchor="end" fill="#000" stroke="#000" stroke-width="0.18">0</text>
<text transform="translate(407.40 346.00) scale(1.0701 1)" font-size="6.63" text-anchor="end" fill="#000" stroke="#000" stroke-width="0.18">10</text>
<text transform="translate(407.40 327.25) scale(1.0701 1)" font-size="6.63" text-anchor="end" fill="#000" stroke="#000" stroke-width="0.18">20</text>
<text transform="translate(407.40 308.50) scale(1.0701 1)" font-size="6.63" text-anchor="end" fill="#000" stroke="#000" stroke-width="0.18">30</text>
<text transform="translate(407.40 289.75) scale(1.0701 1)" font-size="6.63" text-anchor="end" fill="#000" stroke="#000" stroke-width="0.18">40</text>
<text transform="translate(407.40 271.00) scale(1.0701 1)" font-size="6.63" text-anchor="end" fill="#000" stroke="#000" stroke-width="0.18">50</text>
<text transform="translate(407.40 252.25) scale(1.0701 1)" font-size="6.63" text-anchor="end" fill="#000" stroke="#000" stroke-width="0.18">60</text>
<text transform="translate(407.40 233.50) scale(1.0701 1)" font-size="6.63" text-anchor="end" fill="#000" stroke="#000" stroke-width="0.18">70</text>
<text transform="translate(407.40 214.75) scale(1.0701 1)" font-size="6.63" text-anchor="end" fill="#000" stroke="#000" stroke-width="0.18">80</text>
<path d="M418.19 362.30v2.2M451.87 362.30v2.2M485.55 362.30v2.2M519.23 362.30v2.2M552.91 362.30v2.2M411.40 362.30h-2.2M411.40 343.55h-2.2M411.40 324.80h-2.2M411.40 306.05h-2.2M411.40 287.30h-2.2M411.40 268.55h-2.2M411.40 249.80h-2.2M411.40 231.05h-2.2M411.40 212.30h-2.2" stroke="#000" stroke-width="0.65" fill="none"/>
<text transform="translate(485.45 209.00) scale(1.1306 1)" font-size="8.96" text-anchor="middle" fill="#000" stroke="#000" stroke-width="0.06">Employment deprivation</text>
<rect x="527.05" y="215.20" width="29.7" height="20.35" rx="1.2" fill="#fff" fill-opacity="0.8" stroke="#ccc" stroke-width="0.6"/>
<rect x="529.55" y="218.45" width="12.3" height="4.3" fill="#ff0000" fill-opacity="0.4"/>
<rect x="529.55" y="227.45" width="12.3" height="4.3" fill="#0000ff" fill-opacity="0.4"/>
<text transform="translate(546.55 223.00) scale(1.0701 1)" font-size="6.63" text-anchor="start" fill="#000" stroke="#000" stroke-width="0.18">1</text>
<text transform="translate(546.55 232.00) scale(1.0701 1)" font-size="6.63" text-anchor="start" fill="#000" stroke="#000" stroke-width="0.18">10</text>
</g>
<g>
<path d="M647.13 362.30V360.80H648.84V362.30ZM650.54 362.30V360.80H652.25V362.30ZM652.25 362.30V356.86H653.95V362.30ZM653.95 362.30V358.93H655.66V362.30ZM655.66 362.30V358.18H657.36V362.30ZM657.36 362.30V343.55H659.07V362.30ZM659.07 362.30V355.55H660.77V362.30ZM660.77 362.30V330.99H662.48V362.30ZM662.48 362.30V345.05H664.18V362.30ZM664.18 362.30V335.68H665.89V362.30ZM665.89 362.30V313.93H667.59V362.30ZM667.59 362.30V305.86H669.30V362.30ZM669.30 362.30V299.86H671.00V362.30ZM671.00 362.30V251.86H672.71V362.30ZM672.71 362.30V257.68H674.42V362.30ZM674.42 362.30V270.99H676.12V362.30ZM676.12 362.30V294.61H677.83V362.30ZM677.83 362.30V287.49H679.53V362.30ZM679.53 362.30V313.18H681.24V362.30ZM681.24 362.30V321.80H682.94V362.30ZM682.94 362.30V333.61H684.65V362.30ZM684.65 362.30V340.36H686.35V362.30ZM686.35 362.30V348.24H688.06V362.30ZM688.06 362.30V360.80H689.76V362.30ZM689.76 362.30V356.86H691.47V362.30ZM691.47 362.30V361.36H693.17V362.30ZM693.17 362.30V358.18H694.88V362.30Z" fill="#ff0000" fill-opacity="0.4"/>
<path d="M677.83 362.30V360.80H679.53V362.30ZM681.24 362.30V358.93H682.94V362.30ZM682.94 362.30V359.49H684.65V362.30ZM684.65 362.30V357.61H686.35V362.30ZM686.35 362.30V353.30H688.06V362.30ZM688.06 362.30V334.36H689.76V362.30ZM689.76 362.30V336.43H691.47V362.30ZM691.47 362.30V307.93H693.17V362.30ZM693.17 362.30V292.93H694.88V362.30ZM694.88 362.30V243.24H696.58V362.30ZM696.58 362.30V225.61H698.29V362.30ZM698.29 362.30V233.30H700.00V362.30ZM700.00 362.30V278.30H701.70V362.30ZM701.70 362.30V280.36H703.41V362.30ZM703.41 362.30V321.05H705.11V362.30ZM705.11 362.30V311.86H706.82V362.30ZM706.82 362.30V335.68H708.52V362.30ZM708.52 362.30V349.55H710.23V362.30ZM710.23 362.30V352.93H711.93V362.30ZM711.93 362.30V355.55H713.64V362.30ZM713.64 362.30V358.18H715.34V362.30ZM715.34 362.30V359.49H717.05V362.30Z" fill="#0000ff" fill-opacity="0.4"/>
<line x1="685.50" x2="685.50" y1="212.30" y2="362.30" stroke="#dcdcdc" stroke-width="0.7" stroke-dasharray="2.4 2.4" stroke-dashoffset="3.3"/>
<rect x="611.35" y="212.30" width="148.10" height="150.00" fill="none" stroke="#000" stroke-width="0.5"/>
<rect x="614.23" y="369.34" width="3.88" height="0.56" fill="#000"/>
<text transform="translate(618.77 371.45) scale(1.0701 1)" font-size="6.63" text-anchor="start" fill="#000" stroke="#000" stroke-width="0.18">4</text>
<rect x="647.91" y="369.34" width="3.88" height="0.56" fill="#000"/>
<text transform="translate(652.45 371.45) scale(1.0701 1)" font-size="6.63" text-anchor="start" fill="#000" stroke="#000" stroke-width="0.18">2</text>
<text transform="translate(685.50 371.45) scale(1.0701 1)" font-size="6.63" text-anchor="middle" fill="#000" stroke="#000" stroke-width="0.18">0</text>
<text transform="translate(719.18 371.45) scale(1.0701 1)" font-size="6.63" text-anchor="middle" fill="#000" stroke="#000" stroke-width="0.18">2</text>
<text transform="translate(752.86 371.45) scale(1.0701 1)" font-size="6.63" text-anchor="middle" fill="#000" stroke="#000" stroke-width="0.18">4</text>
<text transform="translate(607.35 364.75) scale(1.0701 1)" font-size="6.63" text-anchor="end" fill="#000" stroke="#000" stroke-width="0.18">0</text>
<text transform="translate(607.35 346.00) scale(1.0701 1)" font-size="6.63" text-anchor="end" fill="#000" stroke="#000" stroke-width="0.18">10</text>
<text transform="translate(607.35 327.25) scale(1.0701 1)" font-size="6.63" text-anchor="end" fill="#000" stroke="#000" stroke-width="0.18">20</text>
<text transform="translate(607.35 308.50) scale(1.0701 1)" font-size="6.63" text-anchor="end" fill="#000" stroke="#000" stroke-width="0.18">30</text>
<text transform="translate(607.35 289.75) scale(1.0701 1)" font-size="6.63" text-anchor="end" fill="#000" stroke="#000" stroke-width="0.18">40</text>
<text transform="translate(607.35 271.00) scale(1.0701 1)" font-size="6.63" text-anchor="end" fill="#000" stroke="#000" stroke-width="0.18">50</text>
<text transform="translate(607.35 252.25) scale(1.0701 1)" font-size="6.63" text-anchor="end" fill="#000" stroke="#000" stroke-width="0.18">60</text>
<text transform="translate(607.35 233.50) scale(1.0701 1)" font-size="6.63" text-anchor="end" fill="#000" stroke="#000" stroke-width="0.18">70</text>
<text transform="translate(607.35 214.75) scale(1.0701 1)" font-size="6.63" text-anchor="end" fill="#000" stroke="#000" stroke-width="0.18">80</text>
<path d="M618.14 362.30v2.2M651.82 362.30v2.2M685.50 362.30v2.2M719.18 362.30v2.2M752.86 362.30v2.2M611.35 362.30h-2.2M611.35 343.55h-2.2M611.35 324.80h-2.2M611.35 306.05h-2.2M611.35 287.30h-2.2M611.35 268.55h-2.2M611.35 249.80h-2.2M611.35 231.05h-2.2M611.35 212.30h-2.2" stroke="#000" stroke-width="0.65" fill="none"/>
<text transform="translate(685.40 209.00) scale(1.1223 1)" font-size="8.96" text-anchor="middle" fill="#000" stroke="#000" stroke-width="0.06">Education deprivation</text>
<rect x="727.00" y="215.20" width="29.7" height="20.35" rx="1.2" fill="#fff" fill-opacity="0.8" stroke="#ccc" stroke-width="0.6"/>
<rect x="729.50" y="218.45" width="12.3" height="4.3" fill="#ff0000" fill-opacity="0.4"/>
<rect x="729.50" y="227.45" width="12.3" height="4.3" fill="#0000ff" fill-opacity="0.4"/>
<text transform="translate(746.50 223.00) scale(1.0701 1)" font-size="6.63" text-anchor="start" fill="#000" stroke="#000" stroke-width="0.18">1</text>
<text transform="translate(746.50 232.00) scale(1.0701 1)" font-size="6.63" text-anchor="start" fill="#000" stroke="#000" stroke-width="0.18">10</text>
</g>
<g>
<path d="M55.81 564.10V562.98H57.51V564.10ZM57.51 564.10V559.61H59.22V564.10ZM59.22 564.10V556.43H60.92V564.10ZM60.92 564.10V553.06H62.63V564.10ZM62.63 564.10V536.58H64.33V564.10ZM64.33 564.10V529.28H66.04V564.10ZM66.04 564.10V503.45H67.74V564.10ZM67.74 564.10V478.93H69.45V564.10ZM69.45 564.10V441.12H71.15V564.10ZM71.15 564.10V443.93H72.86V564.10ZM72.86 564.10V458.34H74.57V564.10ZM74.57 564.10V460.40H76.27V564.10ZM76.27 564.10V484.17H77.98V564.10ZM77.98 564.10V524.04H79.68V564.10ZM79.68 564.10V529.28H81.39V564.10ZM81.39 564.10V547.07H83.09V564.10ZM83.09 564.10V549.69H84.80V564.10ZM84.80 564.10V550.44H86.50V564.10ZM86.50 564.10V559.61H88.21V564.10ZM91.62 564.10V562.98H93.32V564.10Z" fill="#ff0000" fill-opacity="0.4"/>
<path d="M79.68 564.10V562.98H81.39V564.10ZM83.09 564.10V562.42H84.80V564.10ZM84.80 564.10V560.92H86.50V564.10ZM86.50 564.10V561.29H88.21V564.10ZM88.21 564.10V560.36H89.91V564.10ZM89.91 564.10V554.37H91.62V564.10ZM91.62 564.10V551.18H93.32V564.10ZM93.32 564.10V534.52H95.03V564.10ZM95.03 564.10V499.89H96.73V564.10ZM96.73 564.10V500.83H98.44V564.10ZM98.44 564.10V496.15H100.15V564.10ZM100.15 564.10V506.82H101.85V564.10ZM101.85 564.10V514.12H103.56V564.10ZM103.56 564.10V510.75H105.26V564.10ZM105.26 564.10V523.29H106.97V564.10ZM106.97 564.10V512.06H108.67V564.10ZM108.67 564.10V535.27H110.38V564.10ZM110.38 564.10V551.75H112.08V564.10ZM112.08 564.10V538.46H113.79V564.10ZM113.79 564.10V540.51H115.49V564.10ZM115.49 564.10V543.88H117.20V564.10ZM117.20 564.10V542.57H118.90V564.10ZM118.90 564.10V535.27H120.61V564.10ZM120.61 564.10V544.45H122.31V564.10ZM122.31 564.10V559.05H124.02V564.10ZM124.02 564.10V549.87H125.72V564.10ZM125.72 564.10V536.58H127.43V564.10ZM127.43 564.10V553.80H129.14V564.10ZM129.14 564.10V553.06H130.84V564.10ZM130.84 564.10V544.45H132.55V564.10ZM132.55 564.10V545.76H134.25V564.10ZM134.25 564.10V540.51H135.96V564.10ZM135.96 564.10V555.12H137.66V564.10ZM137.66 564.10V554.37H139.37V564.10ZM139.37 564.10V555.12H141.07V564.10ZM141.07 564.10V549.87H142.78V564.10ZM142.78 564.10V559.61H144.48V564.10ZM144.48 564.10V559.61H146.19V564.10ZM146.19 564.10V562.98H147.89V564.10ZM147.89 564.10V562.98H149.60V564.10Z" fill="#0000ff" fill-opacity="0.4"/>
<line x1="85.65" x2="85.65" y1="414.35" y2="564.10" stroke="#dcdcdc" stroke-width="0.7" stroke-dasharray="2.4 2.4" stroke-dashoffset="3.3"/>
<rect x="11.50" y="414.35" width="148.10" height="149.75" fill="none" stroke="#000" stroke-width="0.5"/>
<rect x="14.38" y="571.14" width="3.88" height="0.56" fill="#000"/>
<text transform="translate(18.92 573.25) scale(1.0701 1)" font-size="6.63" text-anchor="start" fill="#000" stroke="#000" stroke-width="0.18">4</text>
<rect x="48.06" y="571.14" width="3.88" height="0.56" fill="#000"/>
<text transform="translate(52.60 573.25) scale(1.0701 1)" font-size="6.63" text-anchor="start" fill="#000" stroke="#000" stroke-width="0.18">2</text>
<text transform="translate(85.65 573.25) scale(1.0701 1)" font-size="6.63" text-anchor="middle" fill="#000" stroke="#000" stroke-width="0.18">0</text>
<text transform="translate(119.33 573.25) scale(1.0701 1)" font-size="6.63" text-anchor="middle" fill="#000" stroke="#000" stroke-width="0.18">2</text>
<text transform="translate(153.01 573.25) scale(1.0701 1)" font-size="6.63" text-anchor="middle" fill="#000" stroke="#000" stroke-width="0.18">4</text>
<text transform="translate(7.50 566.55) scale(1.0701 1)" font-size="6.63" text-anchor="end" fill="#000" stroke="#000" stroke-width="0.18">0</text>
<text transform="translate(7.50 547.83) scale(1.0701 1)" font-size="6.63" text-anchor="end" fill="#000" stroke="#000" stroke-width="0.18">10</text>
<text transform="translate(7.50 529.11) scale(1.0701 1)" font-size="6.63" text-anchor="end" fill="#000" stroke="#000" stroke-width="0.18">20</text>
<text transform="translate(7.50 510.39) scale(1.0701 1)" font-size="6.63" text-anchor="end" fill="#000" stroke="#000" stroke-width="0.18">30</text>
<text transform="translate(7.50 491.68) scale(1.0701 1)" font-size="6.63" text-anchor="end" fill="#000" stroke="#000" stroke-width="0.18">40</text>
<text transform="translate(7.50 472.96) scale(1.0701 1)" font-size="6.63" text-anchor="end" fill="#000" stroke="#000" stroke-width="0.18">50</text>
<text transform="translate(7.50 454.24) scale(1.0701 1)" font-size="6.63" text-anchor="end" fill="#000" stroke="#000" stroke-width="0.18">60</text>
<text transform="translate(7.50 435.52) scale(1.0701 1)" font-size="6.63" text-anchor="end" fill="#000" stroke="#000" stroke-width="0.18">70</text>
<text transform="translate(7.50 416.80) scale(1.0701 1)" font-size="6.63" text-anchor="end" fill="#000" stroke="#000" stroke-width="0.18">80</text>
<path d="M18.29 564.10v2.2M51.97 564.10v2.2M85.65 564.10v2.2M119.33 564.10v2.2M153.01 564.10v2.2M11.50 564.10h-2.2M11.50 545.38h-2.2M11.50 526.66h-2.2M11.50 507.94h-2.2M11.50 489.23h-2.2M11.50 470.51h-2.2M11.50 451.79h-2.2M11.50 433.07h-2.2M11.50 414.35h-2.2" stroke="#000" stroke-width="0.65" fill="none"/>
<text transform="translate(85.55 411.05) scale(1.0897 1)" font-size="8.96" text-anchor="middle" fill="#000" stroke="#000" stroke-width="0.06">Mean Income</text>
<rect x="127.15" y="417.25" width="29.7" height="20.35" rx="1.2" fill="#fff" fill-opacity="0.8" stroke="#ccc" stroke-width="0.6"/>
<rect x="129.65" y="420.50" width="12.3" height="4.3" fill="#ff0000" fill-opacity="0.4"/>
<rect x="129.65" y="429.50" width="12.3" height="4.3" fill="#0000ff" fill-opacity="0.4"/>
<text transform="translate(146.65 425.05) scale(1.0701 1)" font-size="6.63" text-anchor="start" fill="#000" stroke="#000" stroke-width="0.18">1</text>
<text transform="translate(146.65 434.05) scale(1.0701 1)" font-size="6.63" text-anchor="start" fill="#000" stroke="#000" stroke-width="0.18">10</text>
</g>
<g>
<path d="M252.35 564.10V562.98H254.05V564.10ZM255.76 564.10V562.23H257.46V564.10ZM257.46 564.10V559.05H259.17V564.10ZM259.17 564.10V555.12H260.87V564.10ZM260.87 564.10V551.18H262.58V564.10ZM262.58 564.10V539.77H264.28V564.10ZM264.28 564.10V526.66H265.99V564.10ZM265.99 564.10V524.79H267.69V564.10ZM267.69 564.10V497.46H269.40V564.10ZM269.40 564.10V486.23H271.10V564.10ZM271.10 564.10V465.64H272.81V564.10ZM272.81 564.10V434.00H274.52V564.10ZM274.52 564.10V484.17H276.22V564.10ZM276.22 564.10V499.33H277.93V564.10ZM277.93 564.10V461.71H279.63V564.10ZM279.63 564.10V502.33H281.34V564.10ZM281.34 564.10V520.11H283.04V564.10ZM283.04 564.10V546.50H284.75V564.10ZM284.75 564.10V550.44H286.45V564.10ZM286.45 564.10V560.36H288.16V564.10ZM288.16 564.10V561.67H289.86V564.10ZM289.86 564.10V562.98H291.57V564.10ZM300.10 564.10V562.98H301.80V564.10Z" fill="#ff0000" fill-opacity="0.4"/>
<path d="M272.81 564.10V562.98H274.52V564.10ZM277.93 564.10V561.67H279.63V564.10ZM279.63 564.10V553.80H281.34V564.10ZM281.34 564.10V559.05H283.04V564.10ZM283.04 564.10V559.61H284.75V564.10ZM284.75 564.10V560.36H286.45V564.10ZM286.45 564.10V548.38H288.16V564.10ZM288.16 564.10V550.44H289.86V564.10ZM289.86 564.10V531.34H291.57V564.10ZM291.57 564.10V520.11H293.27V564.10ZM293.27 564.10V494.09H294.98V564.10ZM294.98 564.10V463.58H296.68V564.10ZM296.68 564.10V475.56H298.39V564.10ZM298.39 564.10V463.58H300.10V564.10ZM300.10 564.10V500.83H301.80V564.10ZM301.80 564.10V482.30H303.51V564.10ZM303.51 564.10V502.33H305.21V564.10ZM305.21 564.10V495.40H306.92V564.10ZM306.92 564.10V533.21H308.62V564.10ZM308.62 564.10V535.83H310.33V564.10ZM310.33 564.10V543.13H312.03V564.10ZM312.03 564.10V553.06H313.74V564.10ZM313.74 564.10V558.48H315.44V564.10ZM315.44 564.10V561.67H317.15V564.10ZM317.15 564.10V559.05H318.85V564.10ZM318.85 564.10V563.54H320.56V564.10ZM320.56 564.10V559.05H322.26V564.10Z" fill="#0000ff" fill-opacity="0.4"/>
<line x1="285.60" x2="285.60" y1="414.35" y2="564.10" stroke="#dcdcdc" stroke-width="0.7" stroke-dasharray="2.4 2.4" stroke-dashoffset="3.3"/>
<rect x="211.45" y="414.35" width="148.10" height="149.75" fill="none" stroke="#000" stroke-width="0.5"/>
<rect x="214.33" y="571.14" width="3.88" height="0.56" fill="#000"/>
<text transform="translate(218.87 573.25) scale(1.0701 1)" font-size="6.63" text-anchor="start" fill="#000" stroke="#000" stroke-width="0.18">4</text>
<rect x="248.01" y="571.14" width="3.88" height="0.56" fill="#000"/>
<text transform="translate(252.55 573.25) scale(1.0701 1)" font-size="6.63" text-anchor="start" fill="#000" stroke="#000" stroke-width="0.18">2</text>
<text transform="translate(285.60 573.25) scale(1.0701 1)" font-size="6.63" text-anchor="middle" fill="#000" stroke="#000" stroke-width="0.18">0</text>
<text transform="translate(319.28 573.25) scale(1.0701 1)" font-size="6.63" text-anchor="middle" fill="#000" stroke="#000" stroke-width="0.18">2</text>
<text transform="translate(352.96 573.25) scale(1.0701 1)" font-size="6.63" text-anchor="middle" fill="#000" stroke="#000" stroke-width="0.18">4</text>
<text transform="translate(207.45 566.55) scale(1.0701 1)" font-size="6.63" text-anchor="end" fill="#000" stroke="#000" stroke-width="0.18">0</text>
<text transform="translate(207.45 547.83) scale(1.0701 1)" font-size="6.63" text-anchor="end" fill="#000" stroke="#000" stroke-width="0.18">10</text>
<text transform="translate(207.45 529.11) scale(1.0701 1)" font-size="6.63" text-anchor="end" fill="#000" stroke="#000" stroke-width="0.18">20</text>
<text transform="translate(207.45 510.39) scale(1.0701 1)" font-size="6.63" text-anchor="end" fill="#000" stroke="#000" stroke-width="0.18">30</text>
<text transform="translate(207.45 491.68) scale(1.0701 1)" font-size="6.63" text-anchor="end" fill="#000" stroke="#000" stroke-width="0.18">40</text>
<text transform="translate(207.45 472.96) scale(1.0701 1)" font-size="6.63" text-anchor="end" fill="#000" stroke="#000" stroke-width="0.18">50</text>
<text transform="translate(207.45 454.24) scale(1.0701 1)" font-size="6.63" text-anchor="end" fill="#000" stroke="#000" stroke-width="0.18">60</text>
<text transform="translate(207.45 435.52) scale(1.0701 1)" font-size="6.63" text-anchor="end" fill="#000" stroke="#000" stroke-width="0.18">70</text>
<text transform="translate(207.45 416.80) scale(1.0701 1)" font-size="6.63" text-anchor="end" fill="#000" stroke="#000" stroke-width="0.18">80</text>
<path d="M218.24 564.10v2.2M251.92 564.10v2.2M285.60 564.10v2.2M319.28 564.10v2.2M352.96 564.10v2.2M211.45 564.10h-2.2M211.45 545.38h-2.2M211.45 526.66h-2.2M211.45 507.94h-2.2M211.45 489.23h-2.2M211.45 470.51h-2.2M211.45 451.79h-2.2M211.45 433.07h-2.2M211.45 414.35h-2.2" stroke="#000" stroke-width="0.65" fill="none"/>
<text transform="translate(285.50 411.05) scale(1.1266 1)" font-size="8.96" text-anchor="middle" fill="#000" stroke="#000" stroke-width="0.06">Income deprivation</text>
<rect x="327.10" y="417.25" width="29.7" height="20.35" rx="1.2" fill="#fff" fill-opacity="0.8" stroke="#ccc" stroke-width="0.6"/>
<rect x="329.60" y="420.50" width="12.3" height="4.3" fill="#ff0000" fill-opacity="0.4"/>
<rect x="329.60" y="429.50" width="12.3" height="4.3" fill="#0000ff" fill-opacity="0.4"/>
<text transform="translate(346.60 425.05) scale(1.0701 1)" font-size="6.63" text-anchor="start" fill="#000" stroke="#000" stroke-width="0.18">1</text>
<text transform="translate(346.60 434.05) scale(1.0701 1)" font-size="6.63" text-anchor="start" fill="#000" stroke="#000" stroke-width="0.18">10</text>
</g>
<g>
<path d="M467.64 564.10V562.98H469.35V564.10ZM469.35 564.10V560.36H471.05V564.10ZM471.05 564.10V531.34H472.76V564.10ZM472.76 564.10V511.69H474.47V564.10ZM474.47 564.10V430.26H476.17V564.10ZM476.17 564.10V417.72H477.88V564.10ZM477.88 564.10V443.36H479.58V564.10ZM479.58 564.10V434.19H481.29V564.10ZM481.29 564.10V484.36H482.99V564.10ZM482.99 564.10V505.51H484.70V564.10ZM484.70 564.10V515.43H486.40V564.10ZM486.40 564.10V521.61H488.11V564.10ZM488.11 564.10V538.83H489.81V564.10ZM489.81 564.10V559.05H491.52V564.10ZM491.52 564.10V561.11H493.22V564.10ZM493.22 564.10V562.42H494.93V564.10ZM494.93 564.10V559.05H496.63V564.10ZM496.63 564.10V562.98H498.34V564.10Z" fill="#ff0000" fill-opacity="0.4"/>
<path d="M472.76 564.10V562.42H474.47V564.10ZM474.47 564.10V561.67H476.17V564.10ZM476.17 564.10V561.48H477.88V564.10ZM477.88 564.10V560.36H479.58V564.10ZM479.58 564.10V551.00H481.29V564.10ZM481.29 564.10V543.51H482.99V564.10ZM482.99 564.10V528.91H484.70V564.10ZM484.70 564.10V522.54H486.40V564.10ZM486.40 564.10V491.28H488.11V564.10ZM488.11 564.10V487.35H489.81V564.10ZM489.81 564.10V473.13H491.52V564.10ZM491.52 564.10V485.48H493.22V564.10ZM493.22 564.10V480.43H494.93V564.10ZM494.93 564.10V450.66H496.63V564.10ZM496.63 564.10V475.19H498.34V564.10ZM498.34 564.10V504.57H500.05V564.10ZM500.05 564.10V507.01H501.75V564.10ZM501.75 564.10V542.57H503.46V564.10ZM503.46 564.10V546.50H505.16V564.10ZM505.16 564.10V561.11H506.87V564.10ZM506.87 564.10V561.48H508.57V564.10ZM508.57 564.10V561.67H510.28V564.10ZM511.98 564.10V561.11H513.69V564.10Z" fill="#0000ff" fill-opacity="0.4"/>
<line x1="485.55" x2="485.55" y1="414.35" y2="564.10" stroke="#dcdcdc" stroke-width="0.7" stroke-dasharray="2.4 2.4" stroke-dashoffset="3.3"/>
<rect x="411.40" y="414.35" width="148.10" height="149.75" fill="none" stroke="#000" stroke-width="0.5"/>
<rect x="414.28" y="571.14" width="3.88" height="0.56" fill="#000"/>
<text transform="translate(418.82 573.25) scale(1.0701 1)" font-size="6.63" text-anchor="start" fill="#000" stroke="#000" stroke-width="0.18">4</text>
<rect x="447.96" y="571.14" width="3.88" height="0.56" fill="#000"/>
<text transform="translate(452.50 573.25) scale(1.0701 1)" font-size="6.63" text-anchor="start" fill="#000" stroke="#000" stroke-width="0.18">2</text>
<text transform="translate(485.55 573.25) scale(1.0701 1)" font-size="6.63" text-anchor="middle" fill="#000" stroke="#000" stroke-width="0.18">0</text>
<text transform="translate(519.23 573.25) scale(1.0701 1)" font-size="6.63" text-anchor="middle" fill="#000" stroke="#000" stroke-width="0.18">2</text>
<text transform="translate(552.91 573.25) scale(1.0701 1)" font-size="6.63" text-anchor="middle" fill="#000" stroke="#000" stroke-width="0.18">4</text>
<text transform="translate(407.40 566.55) scale(1.0701 1)" font-size="6.63" text-anchor="end" fill="#000" stroke="#000" stroke-width="0.18">0</text>
<text transform="translate(407.40 547.83) scale(1.0701 1)" font-size="6.63" text-anchor="end" fill="#000" stroke="#000" stroke-width="0.18">10</text>
<text transform="translate(407.40 529.11) scale(1.0701 1)" font-size="6.63" text-anchor="end" fill="#000" stroke="#000" stroke-width="0.18">20</text>
<text transform="translate(407.40 510.39) scale(1.0701 1)" font-size="6.63" text-anchor="end" fill="#000" stroke="#000" stroke-width="0.18">30</text>
<text transform="translate(407.40 491.68) scale(1.0701 1)" font-size="6.63" text-anchor="end" fill="#000" stroke="#000" stroke-width="0.18">40</text>
<text transform="translate(407.40 472.96) scale(1.0701 1)" font-size="6.63" text-anchor="end" fill="#000" stroke="#000" stroke-width="0.18">50</text>
<text transform="translate(407.40 454.24) scale(1.0701 1)" font-size="6.63" text-anchor="end" fill="#000" stroke="#000" stroke-width="0.18">60</text>
<text transform="translate(407.40 435.52) scale(1.0701 1)" font-size="6.63" text-anchor="end" fill="#000" stroke="#000" stroke-width="0.18">70</text>
<text transform="translate(407.40 416.80) scale(1.0701 1)" font-size="6.63" text-anchor="end" fill="#000" stroke="#000" stroke-width="0.18">80</text>
<path d="M418.19 564.10v2.2M451.87 564.10v2.2M485.55 564.10v2.2M519.23 564.10v2.2M552.91 564.10v2.2M411.40 564.10h-2.2M411.40 545.38h-2.2M411.40 526.66h-2.2M411.40 507.94h-2.2M411.40 489.23h-2.2M411.40 470.51h-2.2M411.40 451.79h-2.2M411.40 433.07h-2.2M411.40 414.35h-2.2" stroke="#000" stroke-width="0.65" fill="none"/>
<text transform="translate(485.45 411.05) scale(1.1265 1)" font-size="8.96" text-anchor="middle" fill="#000" stroke="#000" stroke-width="0.06">Crime deprivation</text>
<rect x="527.05" y="417.25" width="29.7" height="20.35" rx="1.2" fill="#fff" fill-opacity="0.8" stroke="#ccc" stroke-width="0.6"/>
<rect x="529.55" y="420.50" width="12.3" height="4.3" fill="#ff0000" fill-opacity="0.4"/>
<rect x="529.55" y="429.50" width="12.3" height="4.3" fill="#0000ff" fill-opacity="0.4"/>
<text transform="translate(546.55 425.05) scale(1.0701 1)" font-size="6.63" text-anchor="start" fill="#000" stroke="#000" stroke-width="0.18">1</text>
<text transform="translate(546.55 434.05) scale(1.0701 1)" font-size="6.63" text-anchor="start" fill="#000" stroke="#000" stroke-width="0.18">10</text>
</g>
<g>
<path d="M619.85 564.10V560.36H621.55V564.10ZM621.55 564.10V559.05H623.26V564.10ZM623.26 564.10V553.80H624.96V564.10ZM624.96 564.10V562.98H626.67V564.10ZM626.67 564.10V563.54H628.37V564.10ZM628.37 564.10V559.05H630.08V564.10ZM630.08 564.10V555.12H631.78V564.10ZM631.78 564.10V549.87H633.49V564.10ZM633.49 564.10V543.88H635.19V564.10ZM635.19 564.10V536.58H636.90V564.10ZM636.90 564.10V538.46H638.60V564.10ZM638.60 564.10V536.58H640.31V564.10ZM640.31 564.10V535.27H642.01V564.10ZM642.01 564.10V559.05H643.72V564.10ZM643.72 564.10V549.87H645.43V564.10ZM645.43 564.10V543.88H647.13V564.10ZM647.13 564.10V534.90H648.84V564.10ZM648.84 564.10V547.07H650.54V564.10ZM650.54 564.10V538.46H652.25V564.10ZM652.25 564.10V540.51H653.95V564.10ZM653.95 564.10V539.20H655.66V564.10ZM655.66 564.10V549.12H657.36V564.10ZM657.36 564.10V549.87H659.07V564.10ZM659.07 564.10V520.11H660.77V564.10ZM660.77 564.10V534.52H662.48V564.10ZM662.48 564.10V516.74H664.18V564.10ZM664.18 564.10V515.99H665.89V564.10ZM665.89 564.10V501.21H667.59V564.10ZM667.59 564.10V521.98H669.30V564.10ZM669.30 564.10V521.98H671.00V564.10ZM671.00 564.10V527.22H672.71V564.10ZM672.71 564.10V524.04H674.42V564.10ZM674.42 564.10V524.04H676.12V564.10ZM676.12 564.10V545.76H677.83V564.10ZM677.83 564.10V546.50H679.53V564.10ZM679.53 564.10V553.06H681.24V564.10ZM681.24 564.10V555.12H682.94V564.10ZM682.94 564.10V555.68H684.65V564.10ZM688.06 564.10V561.48H689.76V564.10ZM689.76 564.10V561.67H691.47V564.10ZM698.29 564.10V562.98H700.00V564.10Z" fill="#ff0000" fill-opacity="0.4"/>
<path d="M679.53 564.10V562.98H681.24V564.10ZM681.24 564.10V562.98H682.94V564.10ZM682.94 564.10V562.98H684.65V564.10ZM686.35 564.10V562.42H688.06V564.10ZM688.06 564.10V561.11H689.76V564.10ZM689.76 564.10V562.98H691.47V564.10ZM691.47 564.10V559.05H693.17V564.10ZM693.17 564.10V546.50H694.88V564.10ZM694.88 564.10V549.12H696.58V564.10ZM696.58 564.10V540.51H698.29V564.10ZM698.29 564.10V516.74H700.00V564.10ZM700.00 564.10V523.48H701.70V564.10ZM701.70 564.10V512.06H703.41V564.10ZM703.41 564.10V460.40H705.11V564.10ZM705.11 564.10V463.77H706.82V564.10ZM706.82 564.10V447.11H708.52V564.10ZM708.52 564.10V490.16H710.23V564.10ZM710.23 564.10V475.00H711.93V564.10ZM711.93 564.10V486.42H713.64V564.10ZM713.64 564.10V515.99H715.34V564.10ZM715.34 564.10V535.27H717.05V564.10ZM717.05 564.10V542.57H718.75V564.10ZM718.75 564.10V556.99H720.46V564.10ZM720.46 564.10V555.12H722.16V564.10ZM722.16 564.10V562.98H723.87V564.10Z" fill="#0000ff" fill-opacity="0.4"/>
<line x1="685.50" x2="685.50" y1="414.35" y2="564.10" stroke="#dcdcdc" stroke-width="0.7" stroke-dasharray="2.4 2.4" stroke-dashoffset="3.3"/>
<rect x="611.35" y="414.35" width="148.10" height="149.75" fill="none" stroke="#000" stroke-width="0.5"/>
<rect x="614.23" y="571.14" width="3.88" height="0.56" fill="#000"/>
<text transform="translate(618.77 573.25) scale(1.0701 1)" font-size="6.63" text-anchor="start" fill="#000" stroke="#000" stroke-width="0.18">4</text>
<rect x="647.91" y="571.14" width="3.88" height="0.56" fill="#000"/>
<text transform="translate(652.45 573.25) scale(1.0701 1)" font-size="6.63" text-anchor="start" fill="#000" stroke="#000" stroke-width="0.18">2</text>
<text transform="translate(685.50 573.25) scale(1.0701 1)" font-size="6.63" text-anchor="middle" fill="#000" stroke="#000" stroke-width="0.18">0</text>
<text transform="translate(719.18 573.25) scale(1.0701 1)" font-size="6.63" text-anchor="middle" fill="#000" stroke="#000" stroke-width="0.18">2</text>
<text transform="translate(752.86 573.25) scale(1.0701 1)" font-size="6.63" text-anchor="middle" fill="#000" stroke="#000" stroke-width="0.18">4</text>
<text transform="translate(607.35 566.55) scale(1.0701 1)" font-size="6.63" text-anchor="end" fill="#000" stroke="#000" stroke-width="0.18">0</text>
<text transform="translate(607.35 547.83) scale(1.0701 1)" font-size="6.63" text-anchor="end" fill="#000" stroke="#000" stroke-width="0.18">10</text>
<text transform="translate(607.35 529.11) scale(1.0701 1)" font-size="6.63" text-anchor="end" fill="#000" stroke="#000" stroke-width="0.18">20</text>
<text transform="translate(607.35 510.39) scale(1.0701 1)" font-size="6.63" text-anchor="end" fill="#000" stroke="#000" stroke-width="0.18">30</text>
<text transform="translate(607.35 491.68) scale(1.0701 1)" font-size="6.63" text-anchor="end" fill="#000" stroke="#000" stroke-width="0.18">40</text>
<text transform="translate(607.35 472.96) scale(1.0701 1)" font-size="6.63" text-anchor="end" fill="#000" stroke="#000" stroke-width="0.18">50</text>
<text transform="translate(607.35 454.24) scale(1.0701 1)" font-size="6.63" text-anchor="end" fill="#000" stroke="#000" stroke-width="0.18">60</text>
<text transform="translate(607.35 435.52) scale(1.0701 1)" font-size="6.63" text-anchor="end" fill="#000" stroke="#000" stroke-width="0.18">70</text>
<text transform="translate(607.35 416.80) scale(1.0701 1)" font-size="6.63" text-anchor="end" fill="#000" stroke="#000" stroke-width="0.18">80</text>
<path d="M618.14 564.10v2.2M651.82 564.10v2.2M685.50 564.10v2.2M719.18 564.10v2.2M752.86 564.10v2.2M611.35 564.10h-2.2M611.35 545.38h-2.2M611.35 526.66h-2.2M611.35 507.94h-2.2M611.35 489.23h-2.2M611.35 470.51h-2.2M611.35 451.79h-2.2M611.35 433.07h-2.2M611.35 414.35h-2.2" stroke="#000" stroke-width="0.65" fill="none"/>
<text transform="translate(685.40 411.05) scale(1.1348 1)" font-size="8.96" text-anchor="middle" fill="#000" stroke="#000" stroke-width="0.06">Living environment deprivation</text>
<rect x="727.00" y="417.25" width="29.7" height="20.35" rx="1.2" fill="#fff" fill-opacity="0.8" stroke="#ccc" stroke-width="0.6"/>
<rect x="729.50" y="420.50" width="12.3" height="4.3" fill="#ff0000" fill-opacity="0.4"/>
<rect x="729.50" y="429.50" width="12.3" height="4.3" fill="#0000ff" fill-opacity="0.4"/>
<text transform="translate(746.50 425.05) scale(1.0701 1)" font-size="6.63" text-anchor="start" fill="#000" stroke="#000" stroke-width="0.18">1</text>
<text transform="translate(746.50 434.05) scale(1.0701 1)" font-size="6.63" text-anchor="start" fill="#000" stroke="#000" stroke-width="0.18">10</text>
</g>
</svg>
</body></html>
